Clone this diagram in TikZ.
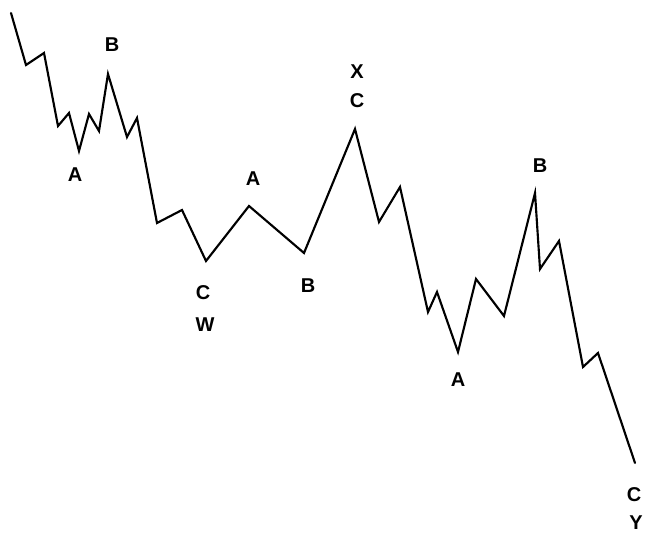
\documentclass[tikz,border=0pt]{standalone}
\usepackage{fontspec}
\setmainfont{Liberation Sans}
\usepackage{tikz}
\usepackage{tkz-euclide}

\tikzset{wave/.style={black, line width=1.6pt, line join=miter},
         lbl/.style={font=\bfseries\fontsize{15}{18}\selectfont, inner sep=0pt}}

\begin{document}
\begin{tikzpicture}[x=0.75pt, y=-0.75pt]
                \useasboundingbox (0,0) rectangle (646,534);
                % wave vertices
                \tkzDefPoints{11/13/P0, 26/65/P1, 44/53/P2, 58/126/P3, 69/113/P4, 79/151/P5,
                  89/114/P6, 99/131/P7, 108/74/P8, 127/137/P9, 137/118/P10, 157/223/P11,
                  182/210/P12, 206/261/P13, 249/206/P14, 304/253/P15, 355/129/P16,
                  379/222/P17, 400/187/P18, 428/312/P19, 437/292/P20, 458/352/P21,
                  476/279/P22, 504/316/P23, 535/193/P24, 540/269/P25, 559/241/P26,
                  583/367/P27, 598/353/P28, 635/463/P29}
                \tkzDrawPolySeg[wave](P0,P1,P2,P3,P4,P5,P6,P7,P8,P9,P10,P11,P12,P13,P14,
                  P15,P16,P17,P18,P19,P20,P21,P22,P23,P24,P25,P26,P27,P28,P29)
                % wave labels
                \node[lbl] (b1) at (112,45) {B};
                \node[lbl] (a1) at (75,175) {A};
                \node[lbl] (c1) at (203,293) {C};
                \node[lbl] (w) at (205,325) {W};
                \node[lbl] (a2) at (253,179) {A};
                \node[lbl] (b2) at (308,286) {B};
                \node[lbl] (x) at (357,72) {X};
                \node[lbl] (c2) at (357,101) {C};
                \node[lbl] (a3) at (458,380) {A};
                \node[lbl] (b3) at (540,166) {B};
                \node[lbl] (c3) at (634,495) {C};
                \node[lbl] (y) at (636,523) {Y};
            \end{tikzpicture}
\end{document}
